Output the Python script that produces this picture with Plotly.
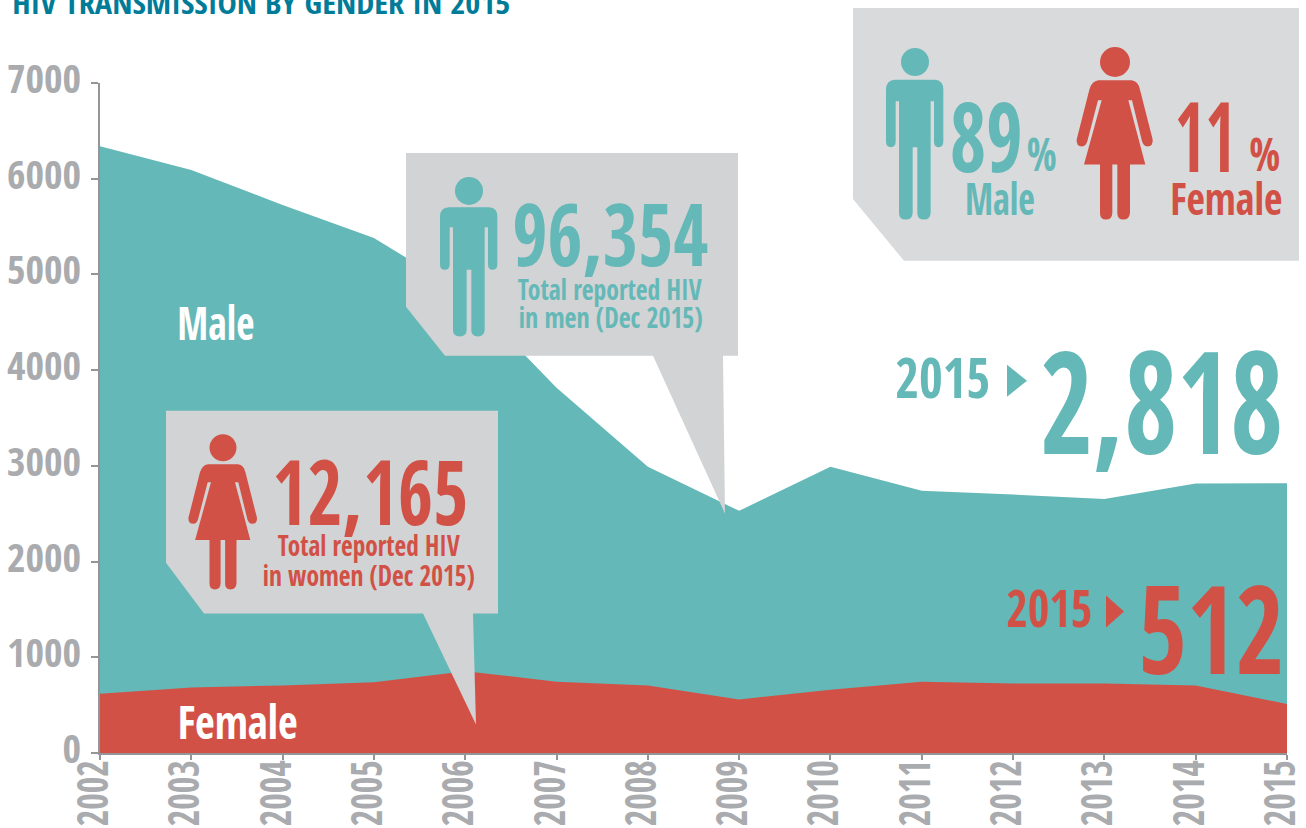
import json
import plotly.graph_objects as go

YEARS = [2002, 2003, 2004, 2005, 2006, 2007, 2008, 2009, 2010, 2011, 2012, 2013, 2014, 2015]
MALE = [6340, 6090, 5725, 5380, 4800, 3815, 2990, 2530, 2990, 2740, 2700, 2655, 2815, 2818]
FEMALE = [620, 685, 705, 740, 855, 745, 705, 560, 660, 745, 725, 725, 705, 512]
Y_TICKS = [0, 1000, 2000, 3000, 4000, 5000, 6000, 7000]

TEAL = "#64b8b7"
RED = "#d25146"
GREY = "#a9abae"
AXIS = "#939598"
NARROW = "Open Sans Condensed"

W, H = 1306, 828
L, R, T, B = 100, 1287, 83, 753.5


def px(x):
    return (x - L) / (R - L)


def py(y):
    return (B - y) / (B - T)


def poly(points, color):
    d = "M " + " L ".join(f"{px(x):.5f} {py(y):.5f}" for x, y in points) + " Z"
    return dict(type="path", xref="paper", yref="paper", path=d, fillcolor=color, line_width=0, layer="above")


MAN = "M 135 240 L 255 240 Q 280 242 280 270 L 280 425 Q 280 443 265 443 Q 252 443 252 425 L 252 305 L 242 305 L 242 640 Q 240 660 222 660 Q 202 660 202 640 L 202 443 L 188 443 L 188 640 Q 187 660 167 660 Q 147 660 147 640 L 147 305 L 137 305 L 137 425 Q 137 443 122 443 Q 108 443 108 425 L 108 270 Q 108 242 135 240 Z"
WOMAN = "M 745 242 L 845 242 Q 865 245 870 270 L 908 420 Q 910 440 892 441 Q 880 440 876 425 L 846 302 L 835 302 L 886 495 L 840 495 L 840 640 Q 838 660 820 660 Q 802 660 802 640 L 802 495 L 787 495 L 787 640 Q 786 660 768 660 Q 750 660 750 640 L 750 495 L 702 495 L 755 302 L 744 302 L 712 425 Q 708 440 696 441 Q 678 440 680 420 L 718 270 Q 725 245 745 242 Z"


def icon(path, hx, hy, cx, cy, r, sx, sy, color):
    toks = path.split()
    out = []
    i = 0
    while i < len(toks):
        t = toks[i]
        if t in "MLQZ":
            out.append(t)
            i += 1
        else:
            xx = cx + (float(toks[i]) - hx) / 3 * sx
            yy = cy + (float(toks[i + 1]) - hy) / 3 * sy
            out += [f"{px(xx):.5f}", f"{py(yy):.5f}"]
            i += 2
    body = dict(type="path", xref="paper", yref="paper", path=" ".join(out), fillcolor=color, line_width=0, layer="above")
    head = dict(type="circle", xref="paper", yref="paper", x0=px(cx - r), x1=px(cx + r),
                y0=py(cy + r), y1=py(cy - r), fillcolor=color, line_width=0, layer="above")
    return [body, head]


fitted = []


def label(text, x, y, size, color, width, weight="bold"):
    fitted.append(width)
    return dict(text=text, x=px(x), y=py(y - 0.035 * size), xref="paper", yref="paper", showarrow=False,
                xanchor="center", yanchor="middle",
                font=dict(family=NARROW, size=size, color=color, weight=weight))


shapes = [
    poly([(853, 8), (1299, 8), (1299, 261), (904, 261), (853, 199)], "#d9dadc"),
    poly([(406, 153), (738, 153), (738, 356), (723, 356), (725, 514), (653, 356), (445, 356), (406, 307)], "#d1d3d4"),
    poly([(166, 411), (498, 411), (498, 614), (473, 614), (476, 725), (423, 614), (204, 614), (166, 563)], "#d1d3d4"),
    poly([(1007, 365), (1027, 381), (1007, 397)], TEAL),
    poly([(1106, 596), (1124, 612), (1106, 628)], RED),
]
shapes += icon(MAN, 195, 187, 915, 62, 14, 1, 1, TEAL)
shapes += icon(WOMAN, 795, 187, 1115, 62, 15, 1, 1, RED)
shapes += icon(MAN, 195, 187, 469, 191, 14, 1, 0.924, TEAL)
shapes += icon(WOMAN, 795, 187, 223, 448, 13.5, 0.9, 0.9, RED)

annotations = [
    label("HIV TRANSMISSION BY GENDER IN 2015", 261, 4, 28, "#007c99", 498),
    label("Male", 215.5, 324, 46, "white", 77),
    label("Female", 237, 723, 46, "white", 120),
    label("96,354", 610, 235, 87, TEAL, 196),
    label("Total reported HIV", 610, 290, 28, TEAL, 184),
    label("in men (Dec 2015)", 610, 318, 28, TEAL, 184),
    label("12,165", 370, 493, 90, RED, 196),
    label("Total reported HIV", 369, 546, 28, RED, 182),
    label("in women (Dec 2015)", 369, 576, 28, RED, 212),
    label("2015", 942.5, 378, 56, TEAL, 95),
    label("2,818", 1161.5, 403.5, 143, TEAL, 243),
    label("2015", 1049, 609, 52, RED, 86),
    label("512", 1211, 631, 123, RED, 146),
    label("89", 986.5, 137, 98, TEAL, 73),
    label("%", 1042, 155, 47, TEAL, 30, weight="normal"),
    label("Male", 1000, 199, 45, TEAL, 70),
    label("11", 1205.5, 137, 98, RED, 61),
    label("%", 1264.5, 155, 47, RED, 31, weight="normal"),
    label("Female", 1226, 199, 45, RED, 112),
]

fig = go.Figure()
fig.add_trace(go.Scatter(x=YEARS, y=MALE, mode="lines", line=dict(width=0, color=TEAL),
                         fill="tozeroy", fillcolor=TEAL, name="Male", hoverinfo="x+y"))
fig.add_trace(go.Scatter(x=YEARS, y=FEMALE, mode="lines", line=dict(width=0, color=RED),
                         fill="tozeroy", fillcolor=RED, name="Female", hoverinfo="x+y"))

fig.update_layout(
    width=W, height=H, showlegend=False, paper_bgcolor="white", plot_bgcolor="white",
    margin=dict(l=L, r=W - R, t=T, b=H - B, autoexpand=False),
    shapes=shapes, annotations=annotations,
)
fig.update_xaxes(range=[2002, 2015], tickvals=YEARS, ticktext=[str(y) for y in YEARS], tickangle=-90,
                 showgrid=False, zeroline=False, showline=True, linecolor=AXIS, linewidth=2,
                 ticks="outside", ticklen=5, tickwidth=1.5, tickcolor=AXIS, ticklabeloverflow="allow",
                 ticklabelstandoff=-17, ticklabelshift=-6,
                 tickfont=dict(family=NARROW, size=43, color=GREY, weight="bold"))
fig.update_yaxes(range=[0, 7000], tickvals=Y_TICKS, showgrid=False, zeroline=False, showline=True,
                 linecolor=AXIS, linewidth=2, ticks="outside", ticklen=7, tickwidth=1.5, tickcolor=AXIS,
                 ticklabeloverflow="allow", ticklabelstandoff=2, ticklabelshift=-4,
                 tickfont=dict(family=NARROW, size=40, color=GREY, weight="bold"))

script = (
    "document.body.style.margin='0';"
    f"var w={json.dumps(fitted)};"
    "document.querySelectorAll('.annotation-text').forEach(function(t,i){"
    "t.setAttribute('textLength',w[i]);t.setAttribute('lengthAdjust','spacingAndGlyphs');});"
    "document.querySelectorAll('.xtick text').forEach(function(t){"
    "t.setAttribute('textLength',66);t.setAttribute('lengthAdjust','spacingAndGlyphs');});"
)
fig.write_html("out.html", post_script=script, config={"displayModeBar": False})
